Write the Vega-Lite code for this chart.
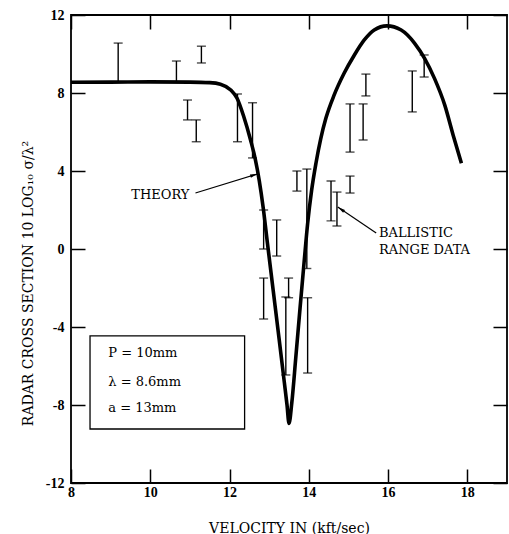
{
  "$schema": "https://vega.github.io/schema/vega-lite/v6.json",
  "width": 436,
  "height": 468,
  "autosize": "none",
  "padding": {"left": 71, "top": 15, "right": 2, "bottom": 51},
  "background": "white",
  "config": {
    "view": {"stroke": "black", "strokeWidth": 1.8},
    "axis": {
      "grid": false,
      "domain": false,
      "tickColor": "black",
      "tickWidth": 1.5,
      "tickSize": -14,
      "labelFont": "Liberation Serif",
      "labelFontWeight": "bold",
      "labelFontSize": 14,
      "labelColor": "black",
      "titleFont": "DejaVu Serif",
      "titleFontSize": 14,
      "titleFontWeight": "normal",
      "titleColor": "black"
    },
    "text": {"font": "DejaVu Serif", "fontSize": 13, "color": "black"}
  },
  "datasets": {
    "theory": [
      {"v": 8.0, "s": 8.55}, {"v": 9.0, "s": 8.56}, {"v": 10.0, "s": 8.57}, {"v": 11.0, "s": 8.56},
      {"v": 11.5, "s": 8.53}, {"v": 11.77, "s": 8.45}, {"v": 12.03, "s": 8.15}, {"v": 12.19, "s": 7.73},
      {"v": 12.36, "s": 6.78}, {"v": 12.53, "s": 5.59}, {"v": 12.65, "s": 4.6}, {"v": 12.75, "s": 3.5},
      {"v": 12.85, "s": 2.1}, {"v": 12.95, "s": 0.4}, {"v": 13.1, "s": -2.1}, {"v": 13.25, "s": -4.6},
      {"v": 13.38, "s": -6.8}, {"v": 13.45, "s": -8.0}, {"v": 13.5, "s": -8.95}, {"v": 13.57, "s": -7.9},
      {"v": 13.67, "s": -5.6}, {"v": 13.78, "s": -3.0}, {"v": 13.88, "s": -0.7}, {"v": 13.97, "s": 1.3},
      {"v": 14.07, "s": 3.0}, {"v": 14.18, "s": 4.4}, {"v": 14.3, "s": 5.65}, {"v": 14.43, "s": 6.7},
      {"v": 14.64, "s": 7.9}, {"v": 14.89, "s": 9.01}, {"v": 15.15, "s": 9.95}, {"v": 15.4, "s": 10.72},
      {"v": 15.65, "s": 11.23}, {"v": 15.97, "s": 11.44}, {"v": 16.33, "s": 11.23}, {"v": 16.67, "s": 10.55},
      {"v": 16.92, "s": 9.78}, {"v": 17.17, "s": 8.75}, {"v": 17.43, "s": 7.38}, {"v": 17.64, "s": 5.85},
      {"v": 17.85, "s": 4.4}
    ],
    "bars": [
      {"v": 9.19, "lo": 8.56, "hi": 10.56}, {"v": 10.66, "lo": 8.56, "hi": 9.64},
      {"v": 11.29, "lo": 9.54, "hi": 10.4}, {"v": 10.94, "lo": 6.62, "hi": 7.64},
      {"v": 11.16, "lo": 5.5, "hi": 6.62}, {"v": 12.2, "lo": 5.5, "hi": 7.95},
      {"v": 12.58, "lo": 4.67, "hi": 7.5}, {"v": 12.86, "lo": 0.0, "hi": 2.0},
      {"v": 13.19, "lo": -0.36, "hi": 1.49}, {"v": 12.86, "lo": -3.59, "hi": -1.49},
      {"v": 13.49, "lo": -2.5, "hi": -1.49}, {"v": 13.42, "lo": -6.46, "hi": -2.46},
      {"v": 13.97, "lo": -6.36, "hi": -2.5}, {"v": 13.7, "lo": 2.97, "hi": 4.0},
      {"v": 13.95, "lo": -1.0, "hi": 4.1}, {"v": 14.56, "lo": 1.44, "hi": 3.49},
      {"v": 14.71, "lo": 1.18, "hi": 2.92}, {"v": 15.04, "lo": 2.87, "hi": 3.74},
      {"v": 15.04, "lo": 4.97, "hi": 7.44}, {"v": 15.37, "lo": 5.59, "hi": 7.44},
      {"v": 15.44, "lo": 7.85, "hi": 8.97}, {"v": 16.61, "lo": 7.03, "hi": 9.13},
      {"v": 16.91, "lo": 8.82, "hi": 9.95}
    ],
    "notes": [
      {"label": "THEORY", "v": 9.52, "s": 2.77},
      {"label": "BALLISTIC", "v": 15.77, "s": 0.82},
      {"label": "RANGE DATA", "v": 15.77, "s": -0.05},
      {"label": "P = 10mm", "v": 8.94, "s": -5.33},
      {"label": "λ =  8.6mm", "v": 8.94, "s": -6.82},
      {"label": "a = 13mm", "v": 8.94, "s": -8.15}
    ],
    "box": [{"v1": 8.48, "v2": 12.38, "s1": -4.46, "s2": -9.23}],
    "arrows": [
      {"v1": 11.14, "s1": 2.87, "v2": 12.71, "s2": 3.85},
      {"v1": 15.7, "s1": 0.82, "v2": 14.73, "s2": 2.15}
    ]
  },
  "layer": [
    {
      "data": {"name": "box"},
      "mark": {"type": "rect", "fill": "white", "stroke": "black", "strokeWidth": 1.3},
      "encoding": {
        "x": {
          "field": "v1", "type": "quantitative",
          "scale": {"domain": [8, 19], "nice": false, "zero": false},
          "axis": {
            "orient": "bottom",
            "values": [8, 10, 12, 14, 16, 18],
            "title": "VELOCITY IN  (kft/sec)",
            "labelPadding": 16,
            "titlePadding": 22,
            "labelFlush": false,
            "labelExpr": "'' + datum.value"
          }
        },
        "x2": {"field": "v2"},
        "y": {
          "field": "s1", "type": "quantitative",
          "scale": {"domain": [-12, 12], "nice": false, "zero": false},
          "axis": {
            "orient": "left",
            "values": [-12, -8, -4, 0, 4, 8, 12],
            "title": "RADAR CROSS SECTION 10 LOG₁₀ σ/λ²",
            "labelPadding": 21,
            "titlePadding": 10,
            "titleY": 268,
            "labelExpr": "'' + datum.value"
          }
        },
        "y2": {"field": "s2"}
      }
    },
    {
      "data": {"name": "theory"},
      "mark": {"type": "line", "color": "black", "strokeWidth": 3.6, "interpolate": "monotone"},
      "encoding": {
        "x": {"field": "v", "type": "quantitative", "axis": null},
        "y": {"field": "s", "type": "quantitative", "axis": null}
      }
    },
    {
      "data": {"name": "bars"},
      "mark": {
        "type": "errorbar",
        "color": "black",
        "ticks": {"size": 9, "thickness": 1.4, "color": "black"},
        "rule": {"strokeWidth": 1.4, "color": "black"}
      },
      "encoding": {
        "x": {"field": "v", "type": "quantitative", "axis": null},
        "y": {"field": "lo", "type": "quantitative", "axis": null},
        "y2": {"field": "hi"}
      }
    },
    {
      "data": {"name": "arrows"},
      "mark": {"type": "rule", "color": "black", "strokeWidth": 1.2},
      "encoding": {
        "x": {"field": "v1", "type": "quantitative", "axis": null},
        "y": {"field": "s1", "type": "quantitative", "axis": null},
        "x2": {"field": "v2"},
        "y2": {"field": "s2"}
      }
    },
    {
      "data": {"name": "arrows"},
      "transform": [{"filter": "datum.v1 < 13"}],
      "mark": {"type": "point", "shape": "M0,0L0.35,1.6L-0.35,1.6Z", "filled": true, "color": "black", "opacity": 1, "size": 90, "angle": 73},
      "encoding": {
        "x": {"field": "v2", "type": "quantitative", "axis": null},
        "y": {"field": "s2", "type": "quantitative", "axis": null}
      }
    },
    {
      "data": {"name": "arrows"},
      "transform": [{"filter": "datum.v1 > 13"}],
      "mark": {"type": "point", "shape": "M0,0L0.35,1.6L-0.35,1.6Z", "filled": true, "color": "black", "opacity": 1, "size": 90, "angle": 304},
      "encoding": {
        "x": {"field": "v2", "type": "quantitative", "axis": null},
        "y": {"field": "s2", "type": "quantitative", "axis": null}
      }
    },
    {
      "data": {"name": "notes"},
      "mark": {"type": "text", "align": "left", "baseline": "middle"},
      "encoding": {
        "x": {"field": "v", "type": "quantitative", "axis": null},
        "y": {"field": "s", "type": "quantitative", "axis": null},
        "text": {"field": "label"}
      }
    },
    {
      "data": {"name": "theory"},
      "mark": {"type": "point", "opacity": 0},
      "encoding": {
        "x": {
          "field": "v", "type": "quantitative",
          "axis": {"orient": "top", "values": [8, 10, 12, 14, 16, 18], "labels": false, "title": null}
        },
        "y": {
          "field": "s", "type": "quantitative",
          "axis": {"orient": "right", "values": [-12, -8, -4, 0, 4, 8, 12], "labels": false, "title": null}
        }
      }
    }
  ],
  "resolve": {"axis": {"x": "independent", "y": "independent"}}
}
